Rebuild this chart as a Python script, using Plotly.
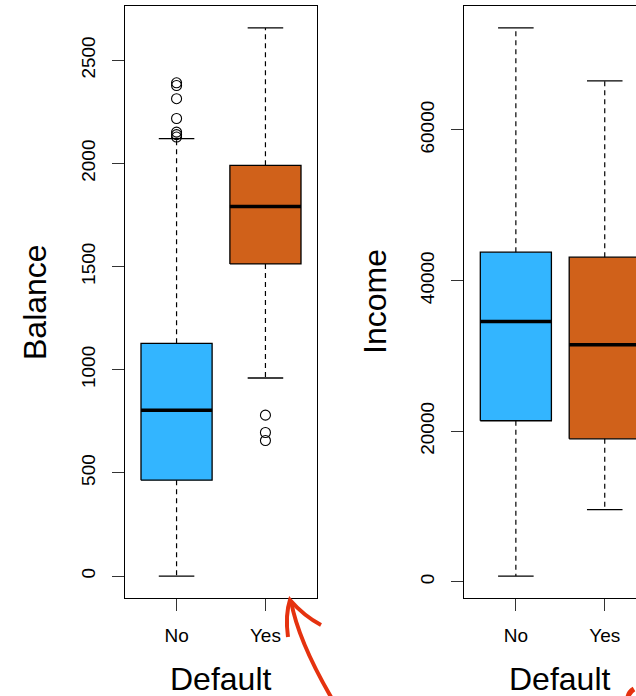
import plotly.graph_objects as go

# Category labels and per-group box statistics
categories = ["No", "Yes"]

balance_low = [0, 960]
balance_q1 = [465, 1513]
balance_median = [804, 1791]
balance_q3 = [1128, 1991]
balance_high = [2120, 2657]
balance_outliers_no = [2391, 2378, 2314, 2218, 2152, 2140, 2128]
balance_outliers_yes = [780, 696, 657]

income_low = [770, 9580]
income_q1 = [21390, 18990]
income_median = [34560, 31500]
income_q3 = [43780, 43110]
income_high = [73550, 66530]

balance_ticks = [0, 500, 1000, 1500, 2000, 2500]
income_ticks = [0, 20000, 40000, 60000]

fill_colors = ["#33B5FF", "#D0611A"]

W, H = 636, 696
FONT = "Liberation Sans, Arial, Helvetica, sans-serif"
HALF_BOX = 0.4
HALF_CAP = 0.2

fig = go.Figure()


def add_boxes(xa, ya, low, q1, med, q3, high):
    for i in range(len(categories)):
        x = i
        # box body
        fig.add_trace(go.Scatter(
            x=[x - HALF_BOX, x + HALF_BOX, x + HALF_BOX, x - HALF_BOX, x - HALF_BOX],
            y=[q1[i], q1[i], q3[i], q3[i], q1[i]],
            mode="lines", fill="toself", fillcolor=fill_colors[i],
            line=dict(color="black", width=1.3),
            xaxis=xa, yaxis=ya, hoverinfo="skip", showlegend=False))
        # median
        fig.add_trace(go.Scatter(
            x=[x - HALF_BOX, x + HALF_BOX], y=[med[i], med[i]],
            mode="lines", line=dict(color="black", width=3.5),
            xaxis=xa, yaxis=ya, hoverinfo="skip", showlegend=False))
        # dashed whiskers
        for a, b in ((q3[i], high[i]), (q1[i], low[i])):
            fig.add_trace(go.Scatter(
                x=[x, x], y=[a, b], mode="lines",
                line=dict(color="black", width=1.2, dash="5px,4px"),
                xaxis=xa, yaxis=ya, hoverinfo="skip", showlegend=False))
        # staples
        for v in (high[i], low[i]):
            fig.add_trace(go.Scatter(
                x=[x - HALF_CAP, x + HALF_CAP], y=[v, v], mode="lines",
                line=dict(color="black", width=1.3),
                xaxis=xa, yaxis=ya, hoverinfo="skip", showlegend=False))


def add_outliers(xa, ya, x, values):
    fig.add_trace(go.Scatter(
        x=[x] * len(values), y=values, mode="markers",
        marker=dict(symbol="circle-open", size=10, color="black",
                    line=dict(width=1.1)),
        xaxis=xa, yaxis=ya, hoverinfo="skip", showlegend=False))


add_boxes("x", "y", balance_low, balance_q1, balance_median, balance_q3, balance_high)
add_outliers("x", "y", 0, balance_outliers_no)
add_outliers("x", "y", 1, balance_outliers_yes)
add_boxes("x2", "y2", income_low, income_q1, income_median, income_q3, income_high)


def padded(lo, hi, frac=0.04):
    span = hi - lo
    return [lo - frac * span, hi + frac * span]


bal_all = balance_low + balance_high + balance_outliers_no + balance_outliers_yes
inc_all = income_low + income_high

px_left1, px_right1 = 125, 317
px_left2 = 464.3
top_px, bot_px = 6, 598
x_range = [-0.58, 1.58]
unit_px = (px_right1 - px_left1) / (x_range[1] - x_range[0])
x2_range = [-0.58, -0.58 + (W - px_left2) / unit_px]

axis_common = dict(
    showgrid=False, zeroline=False, showline=True, linecolor="black",
    linewidth=1.3, ticks="outside", ticklen=12, tickwidth=1.2,
    tickcolor="#333333", tickfont=dict(family=FONT, size=19, color="black"),
)

fig.update_layout(
    width=W, height=H, margin=dict(l=0, r=0, t=0, b=0),
    paper_bgcolor="white", plot_bgcolor="white",
    xaxis=dict(domain=[px_left1 / W, px_right1 / W], range=x_range,
               tickvals=[0, 1], ticktext=categories, mirror=True,
               ticklabelstandoff=8, anchor="y", **axis_common),
    yaxis=dict(domain=[1 - bot_px / H, 1 - top_px / H],
               range=padded(min(bal_all), max(bal_all)),
               tickvals=balance_ticks, ticktext=[str(v) for v in balance_ticks],
               tickangle=-90, mirror=True, ticklabelstandoff=9,
               anchor="x", **axis_common),
    xaxis2=dict(domain=[px_left2 / W, 1.0], range=x2_range,
                tickvals=[0, 1], ticktext=categories, mirror=True,
                ticklabelstandoff=8, anchor="y2", **axis_common),
    yaxis2=dict(domain=[1 - bot_px / H, 1 - top_px / H],
                range=padded(min(inc_all), max(inc_all)),
                tickvals=income_ticks, ticktext=[str(v) for v in income_ticks],
                tickangle=-90, mirror=False, ticklabelstandoff=10,
                anchor="x2", **axis_common),
)

title_font = dict(family=FONT, size=32, color="black")
fig.add_annotation(text="Balance", x=35 / W, y=1 - 302 / H, xref="paper", yref="paper",
                   textangle=-90, showarrow=False, font=title_font,
                   xanchor="center", yanchor="middle")
fig.add_annotation(text="Income", x=375 / W, y=1 - 302 / H, xref="paper", yref="paper",
                   textangle=-90, showarrow=False, font=title_font,
                   xanchor="center", yanchor="middle")
fig.add_annotation(text="Default", x=221 / W, y=1 - 679 / H, xref="paper", yref="paper",
                   showarrow=False, font=title_font, xanchor="center", yanchor="middle")
fig.add_annotation(text="Default", x=560 / W, y=1 - 679 / H, xref="paper", yref="paper",
                   showarrow=False, font=title_font, xanchor="center", yanchor="middle")


# hand-drawn red pointer marks near the bottom of the figure
def pt(px, py):
    return f"{px / W:.5f},{1 - py / H:.5f}"


red = "#E5320F"
fig.add_shape(type="path", xref="paper", yref="paper",
              path=f"M {pt(331, 697)} Q {pt(298, 640)} {pt(291, 601)}",
              line=dict(color=red, width=4))
fig.add_shape(type="path", xref="paper", yref="paper",
              path=f"M {pt(288, 637)} Q {pt(285, 615)} {pt(290, 600)} Q {pt(304, 616)} {pt(321, 625)}",
              line=dict(color=red, width=4))
fig.add_shape(type="path", xref="paper", yref="paper",
              path=f"M {pt(634, 689)} Q {pt(629, 692)} {pt(628, 697)}",
              line=dict(color=red, width=5))

fig.write_html("out.html")
